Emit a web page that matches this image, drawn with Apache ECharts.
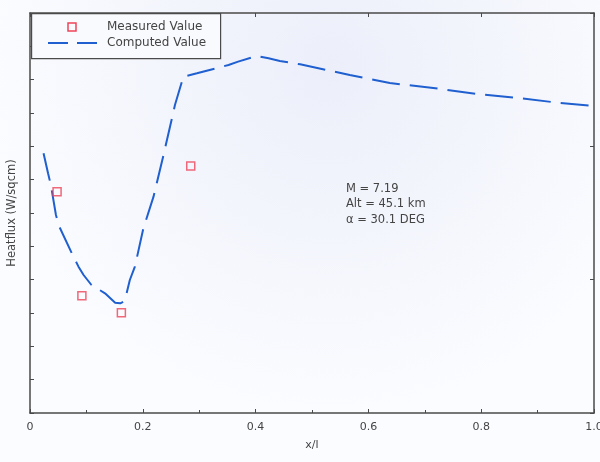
<!DOCTYPE html>
<html>
<head>
<meta charset="utf-8">
<script src="https://cdn.jsdelivr.net/npm/echarts@6/dist/echarts.min.js"></script>
<style>
html,body{margin:0;padding:0;background:#fbfcff;overflow:hidden;}
#chart{width:600px;height:462px;}
</style>
</head>
<body>
<div id="chart"></div>
<script>
// Computed heat flux curve (x/l, heat flux in arbitrary tick units)
var computedX = [0.024, 0.032, 0.037, 0.046, 0.052, 0.077, 0.086, 0.095, 0.109, 0.133, 0.151, 0.160, 0.168, 0.177, 0.186, 0.201, 0.219, 0.236, 0.251, 0.257, 0.272, 0.277, 0.296, 0.352, 0.369, 0.402, 0.423, 0.443, 0.479, 0.567, 0.638, 0.715, 0.793, 0.866, 0.940, 1.000];
var computedY = [7.79, 7.19, 6.84, 5.94, 5.59, 4.69, 4.39, 4.14, 3.84, 3.59, 3.31, 3.29, 3.36, 3.99, 4.39, 5.54, 6.49, 7.69, 8.79, 9.24, 10.09, 10.11, 10.19, 10.44, 10.54, 10.71, 10.64, 10.56, 10.46, 10.14, 9.90, 9.75, 9.57, 9.45, 9.30, 9.21];
// Measured values
var measuredX = [0.048, 0.092, 0.162, 0.285];
var measuredY = [6.64, 3.52, 3.01, 7.41];
// Tick labels on x axis
var xTickLabels = ['0', '0.2', '0.4', '0.6', '0.8', '1.0'];
var annotationLines = ['M = 7.19', 'Alt = 45.1 km', '\u03b1 = 30.1 DEG'];
var legendNames = ['Measured Value', 'Computed Value'];

var computedData = computedX.map(function (x, i) { return [x, computedY[i]]; });
var measuredData = measuredX.map(function (x, i) { return [x, measuredY[i]]; });

var axisColor = '#4a4a4a';
var lineColor = '#1f5fcf';
var markColor = '#ee4459';
var font = 'DejaVu Sans';

var chart = echarts.init(document.getElementById('chart'), null, {renderer: 'canvas'});
chart.setOption({
  backgroundColor: {
    type: 'radial', x: 0.55, y: 0.15, r: 0.75,
    colorStops: [{offset: 0, color: '#eceffa'}, {offset: 1, color: '#fbfcff'}]
  },
  animation: false,
  grid: {left: 30, right: 6, top: 13, bottom: 49, outerBoundsMode: 'none', containLabel: false},
  xAxis: [{
    type: 'value', position: 'bottom', min: 0, max: 1, interval: 0.2,
    axisLine: {onZero: false, lineStyle: {color: axisColor, width: 1.5}},
    axisTick: {inside: true, length: 4, lineStyle: {color: axisColor}},
    minorTick: {show: true, splitNumber: 2, length: 3, lineStyle: {color: axisColor}},
    splitLine: {show: false},
    axisLabel: {
      margin: 9, color: '#444', fontFamily: font, fontSize: 11,
      formatter: function (v) { return xTickLabels[Math.round(v / 0.2)]; }
    },
    name: 'x/l', nameLocation: 'middle', nameGap: 27,
    nameTextStyle: {color: '#444', fontFamily: font, fontSize: 11}
  }, {
    type: 'value', position: 'top', min: 0, max: 1, interval: 0.2,
    axisLine: {show: true, onZero: false, lineStyle: {color: axisColor, width: 1.5}},
    axisTick: {inside: true, length: 4, lineStyle: {color: axisColor}},
    axisLabel: {show: false}, splitLine: {show: false}
  }],
  yAxis: [{
    type: 'value', position: 'left', min: 0, max: 12, interval: 1,
    axisLine: {show: true, onZero: false, lineStyle: {color: axisColor, width: 1.5}},
    axisTick: {show: true, inside: true, length: 4, lineStyle: {color: axisColor}},
    axisLabel: {show: false}, splitLine: {show: false},
    name: 'Heatflux (W/sqcm)', nameLocation: 'middle', nameGap: 12,
    nameTextStyle: {color: '#444', fontFamily: font, fontSize: 11.5}
  }, {
    type: 'value', position: 'right', min: 0, max: 12, interval: 4,
    axisLine: {show: true, onZero: false, lineStyle: {color: axisColor, width: 1.5}},
    axisTick: {show: true, inside: true, length: 4, lineStyle: {color: axisColor}},
    axisLabel: {show: false}, splitLine: {show: false}
  }],
  series: [{
    name: legendNames[1], type: 'line', data: computedData,
    showSymbol: false, smooth: false, z: 3,
    lineStyle: {color: lineColor, width: 2, type: [28, 10]}
  }, {
    name: legendNames[0], type: 'scatter', data: measuredData,
    symbol: 'rect', symbolSize: 8, z: 4,
    itemStyle: {color: 'rgba(0,0,0,0)', borderColor: markColor, borderWidth: 1.5}
  }],
  graphic: [{
    type: 'rect', left: 31, top: 13, z: 10,
    shape: {width: 189, height: 45},
    style: {fill: '#f9fafe', stroke: axisColor, lineWidth: 1.2}
  }, {
    type: 'rect', z: 11, x: 68, y: 23,
    shape: {width: 8, height: 8},
    style: {fill: 'none', stroke: markColor, lineWidth: 1.5}
  }, {
    type: 'line', z: 11,
    shape: {x1: 48, y1: 43, x2: 97, y2: 43},
    style: {stroke: lineColor, lineWidth: 2, lineDash: [20, 9]}
  }, {
    type: 'text', z: 11, x: 107, y: 27,
    style: {text: legendNames[0], fill: '#444', font: '12px "DejaVu Sans"', textVerticalAlign: 'middle'}
  }, {
    type: 'text', z: 11, x: 107, y: 43,
    style: {text: legendNames[1], fill: '#444', font: '12px "DejaVu Sans"', textVerticalAlign: 'middle'}
  }, {
    type: 'text', z: 11, x: 346, y: 181,
    style: {text: annotationLines.join('\n'), fill: '#444', font: '11.5px "DejaVu Sans"', lineHeight: 15.5}
  }]
});
</script>
</body>
</html>
